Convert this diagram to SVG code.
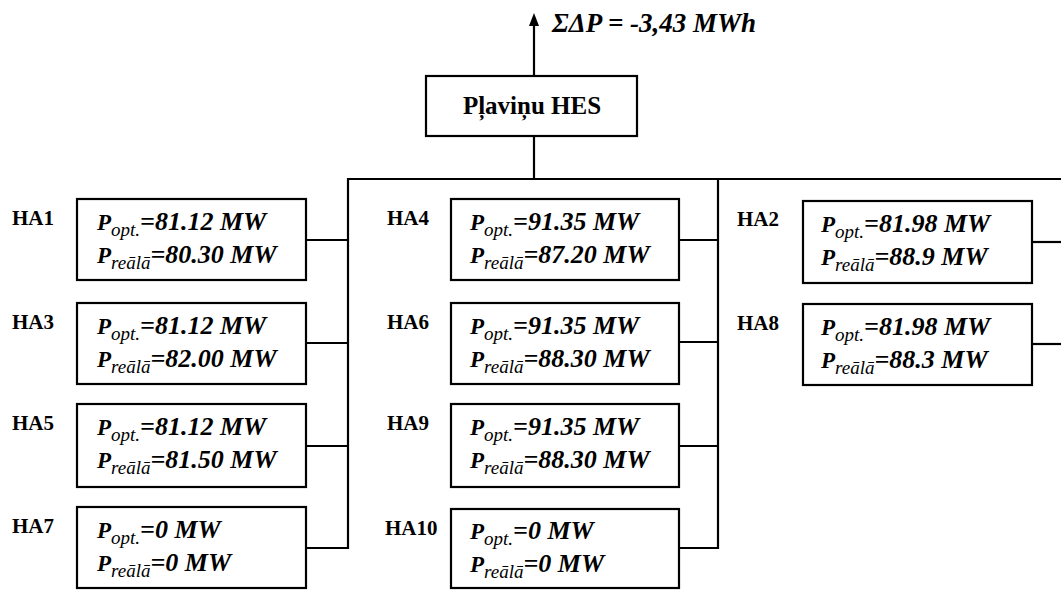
<svg xmlns="http://www.w3.org/2000/svg" width="1061" height="590" viewBox="0 0 1061 590">
<style>
.box{fill:#fff;stroke:#000;stroke-width:2.2}
.ln{fill:none;stroke:#000;stroke-width:2.2}
.lbl{font-family:"Liberation Serif",serif;font-size:21px;font-weight:bold;fill:#000}
.val{font-family:"Liberation Serif",serif;font-size:26px;font-style:italic;font-weight:bold;fill:#000}
.p{font-size:23px}
.sub{font-size:19px;font-weight:normal}
.hes{font-family:"Liberation Serif",serif;font-size:25px;font-weight:bold;fill:#000}
.sum{font-family:"Liberation Serif",serif;font-size:27px;font-style:italic;font-weight:bold;fill:#000}
</style>
<rect width="1061" height="590" fill="#fff"/>
<g id="connectors">
<line class="ln" x1="534" y1="76" x2="534" y2="24"/>
<polygon points="529,26 534,13 539,26" fill="#000"/>
<line class="ln" x1="534" y1="136" x2="534" y2="179"/>
<line class="ln" x1="347" y1="179" x2="1061" y2="179"/>
<line class="ln" x1="348" y1="178" x2="348" y2="549"/>
<line class="ln" x1="718" y1="178" x2="718" y2="549"/>
<line class="ln" x1="306" y1="240" x2="348" y2="240"/>
<line class="ln" x1="306" y1="343" x2="348" y2="343"/>
<line class="ln" x1="306" y1="446" x2="348" y2="446"/>
<line class="ln" x1="306" y1="548" x2="349" y2="548"/>
<line class="ln" x1="679" y1="240" x2="718" y2="240"/>
<line class="ln" x1="679" y1="342" x2="718" y2="342"/>
<line class="ln" x1="679" y1="446" x2="718" y2="446"/>
<line class="ln" x1="679" y1="548" x2="719" y2="548"/>
<line class="ln" x1="1032" y1="242" x2="1061" y2="242"/>
<line class="ln" x1="1032" y1="344" x2="1061" y2="344"/>
</g>
<text class="sum" x="552" y="32">ΣΔP = -3,43 MWh</text>
<g id="hes">
<rect class="box" x="426" y="76" width="211" height="60"/>
<text class="hes" x="532" y="114" text-anchor="middle">Pļaviņu HES</text>
</g>
<g id="ha1">
<text class="lbl" x="12" y="225">HA1</text>
<rect class="box" x="77" y="199" width="229" height="81"/>
<text class="val" x="97" y="230"><tspan class="p">P</tspan><tspan class="sub" dy="6">opt.</tspan><tspan dy="-6">=81.12 MW</tspan></text>
<text class="val" x="97" y="263"><tspan class="p">P</tspan><tspan class="sub" dy="6">reālā</tspan><tspan dy="-6">=80.30 MW</tspan></text>
</g>
<g id="ha3">
<text class="lbl" x="12" y="329">HA3</text>
<rect class="box" x="77" y="303" width="229" height="81"/>
<text class="val" x="97" y="334"><tspan class="p">P</tspan><tspan class="sub" dy="6">opt.</tspan><tspan dy="-6">=81.12 MW</tspan></text>
<text class="val" x="97" y="367"><tspan class="p">P</tspan><tspan class="sub" dy="6">reālā</tspan><tspan dy="-6">=82.00 MW</tspan></text>
</g>
<g id="ha5">
<text class="lbl" x="12" y="430">HA5</text>
<rect class="box" x="77" y="404" width="229" height="83"/>
<text class="val" x="97" y="435"><tspan class="p">P</tspan><tspan class="sub" dy="6">opt.</tspan><tspan dy="-6">=81.12 MW</tspan></text>
<text class="val" x="97" y="468"><tspan class="p">P</tspan><tspan class="sub" dy="6">reālā</tspan><tspan dy="-6">=81.50 MW</tspan></text>
</g>
<g id="ha7">
<text class="lbl" x="12" y="533">HA7</text>
<rect class="box" x="77" y="507" width="229" height="81"/>
<text class="val" x="97" y="538"><tspan class="p">P</tspan><tspan class="sub" dy="6">opt.</tspan><tspan dy="-6">=0 MW</tspan></text>
<text class="val" x="97" y="571"><tspan class="p">P</tspan><tspan class="sub" dy="6">reālā</tspan><tspan dy="-6">=0 MW</tspan></text>
</g>
<g id="ha4">
<text class="lbl" x="387" y="225">HA4</text>
<rect class="box" x="451" y="199" width="228" height="81"/>
<text class="val" x="470" y="230"><tspan class="p">P</tspan><tspan class="sub" dy="6">opt.</tspan><tspan dy="-6">=91.35 MW</tspan></text>
<text class="val" x="470" y="263"><tspan class="p">P</tspan><tspan class="sub" dy="6">reālā</tspan><tspan dy="-6">=87.20 MW</tspan></text>
</g>
<g id="ha6">
<text class="lbl" x="387" y="329">HA6</text>
<rect class="box" x="451" y="303" width="228" height="81"/>
<text class="val" x="470" y="334"><tspan class="p">P</tspan><tspan class="sub" dy="6">opt.</tspan><tspan dy="-6">=91.35 MW</tspan></text>
<text class="val" x="470" y="367"><tspan class="p">P</tspan><tspan class="sub" dy="6">reālā</tspan><tspan dy="-6">=88.30 MW</tspan></text>
</g>
<g id="ha9">
<text class="lbl" x="387" y="430">HA9</text>
<rect class="box" x="451" y="404" width="228" height="83"/>
<text class="val" x="470" y="435"><tspan class="p">P</tspan><tspan class="sub" dy="6">opt.</tspan><tspan dy="-6">=91.35 MW</tspan></text>
<text class="val" x="470" y="468"><tspan class="p">P</tspan><tspan class="sub" dy="6">reālā</tspan><tspan dy="-6">=88.30 MW</tspan></text>
</g>
<g id="ha10">
<text class="lbl" x="385" y="535">HA10</text>
<rect class="box" x="451" y="509" width="228" height="79"/>
<text class="val" x="470" y="539"><tspan class="p">P</tspan><tspan class="sub" dy="6">opt.</tspan><tspan dy="-6">=0 MW</tspan></text>
<text class="val" x="470" y="572"><tspan class="p">P</tspan><tspan class="sub" dy="6">reālā</tspan><tspan dy="-6">=0 MW</tspan></text>
</g>
<g id="ha2">
<text class="lbl" x="737" y="226">HA2</text>
<rect class="box" x="803" y="201" width="229" height="82"/>
<text class="val" x="821" y="232"><tspan class="p">P</tspan><tspan class="sub" dy="6">opt.</tspan><tspan dy="-6">=81.98 MW</tspan></text>
<text class="val" x="821" y="265"><tspan class="p">P</tspan><tspan class="sub" dy="6">reālā</tspan><tspan dy="-6">=88.9 MW</tspan></text>
</g>
<g id="ha8">
<text class="lbl" x="737" y="330">HA8</text>
<rect class="box" x="803" y="304" width="229" height="81"/>
<text class="val" x="821" y="335"><tspan class="p">P</tspan><tspan class="sub" dy="6">opt.</tspan><tspan dy="-6">=81.98 MW</tspan></text>
<text class="val" x="821" y="368"><tspan class="p">P</tspan><tspan class="sub" dy="6">reālā</tspan><tspan dy="-6">=88.3 MW</tspan></text>
</g>
</svg>
